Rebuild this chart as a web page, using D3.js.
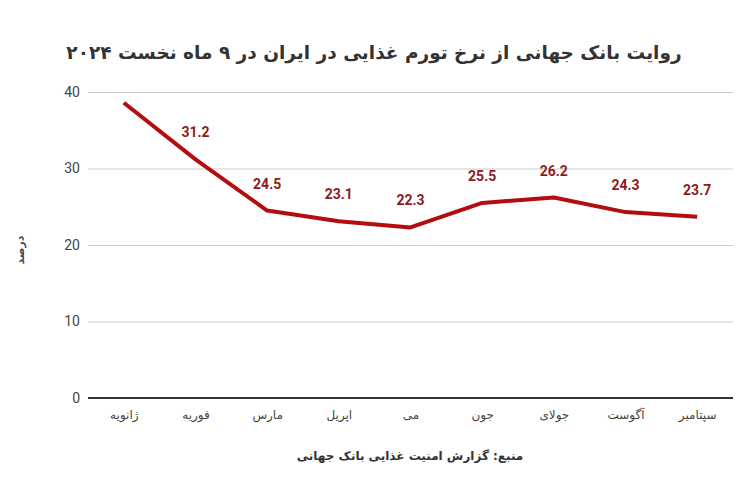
<!DOCTYPE html>
<html>
<head>
<meta charset="utf-8">
<script src="https://cdn.jsdelivr.net/npm/d3@7"></script>
<style>
  body { margin: 0; background: #fff; }
  svg { display: block; }
  .fa { font-family: "DejaVu Sans", sans-serif; direction: rtl; }
  .tick text { font-family: Roboto, "Liberation Sans", sans-serif; }
</style>
</head>
<body>
<svg id="chart"></svg>
<script>
// months, Jan..Sep 2024 (left to right)
const months = ['ژانویه', 'فوریه', 'مارس', 'اپریل', 'می', 'جون', 'جولای', 'آگوست', 'سپتامبر'];
const inflation = [38.6, 31.2, 24.5, 23.1, 22.3, 25.5, 26.2, 24.3, 23.7];
const showLabel = [false, true, true, true, true, true, true, true, true];
const yTicks = [0, 10, 20, 30, 40];

const titleText = 'روایت بانک جهانی از نرخ تورم غذایی در ایران در ۹ ماه نخست ۲۰۲۴';
const yTitle = 'درصد';
const sourceText = 'منبع: گزارش امنیت غذایی بانک جهانی';

const width = 750, height = 492;
const margin = {top: 92, right: 17, bottom: 94, left: 88};

const svg = d3.select('#chart').attr('width', width).attr('height', height);

const x = d3.scalePoint()
    .domain(months)
    .range([margin.left, width - margin.right])
    .padding(0.5);
const y = d3.scaleLinear()
    .domain([0, 40])
    .range([height - margin.bottom, margin.top]);

// gridlines + y tick labels
const yAxis = svg.append('g')
    .attr('transform', 'translate(' + margin.left + ',0)')
    .call(d3.axisLeft(y).tickValues(yTicks).tickSize(-(width - margin.left - margin.right)).tickPadding(8));
yAxis.select('.domain').remove();
yAxis.selectAll('.tick line').attr('stroke', '#cccccc').attr('stroke-width', 1);
yAxis.selectAll('.tick text').attr('fill', '#444').attr('font-size', 14);

// baseline
svg.append('line')
    .attr('x1', margin.left).attr('x2', width - margin.right)
    .attr('y1', y(0)).attr('y2', y(0))
    .attr('stroke', '#333').attr('stroke-width', 2);

// x labels
const xAxis = svg.append('g')
    .attr('transform', 'translate(0,' + y(0) + ')')
    .call(d3.axisBottom(x).tickSize(0).tickPadding(12));
xAxis.select('.domain').remove();
xAxis.selectAll('.tick text')
    .attr('class', 'fa')
    .attr('fill', '#444')
    .attr('font-size', 12)
    .style('font-family', '"DejaVu Sans", sans-serif');

// line
const line = d3.line()
    .x((d, i) => x(months[i]))
    .y(d => y(d));
svg.append('path')
    .datum(inflation)
    .attr('fill', 'none')
    .attr('stroke', '#b30d0d')
    .attr('stroke-width', 4)
    .attr('stroke-linejoin', 'round')
    .attr('d', line);

// value labels (first point has none)
const labelData = inflation
    .map((v, i) => ({month: months[i], value: v}))
    .filter((d, i) => showLabel[i]);
svg.append('g').selectAll('text')
    .data(labelData)
    .join('text')
    .attr('x', d => x(d.month))
    .attr('y', d => y(d.value) - 22)
    .attr('text-anchor', 'middle')
    .attr('font-family', 'Roboto, "Liberation Sans", sans-serif')
    .attr('font-weight', 'bold')
    .attr('font-size', 14)
    .attr('fill', '#8e1b1b')
    .text(d => d.value);

// title
svg.append('text')
    .attr('class', 'fa')
    .attr('x', 374)
    .attr('y', 59)
    .attr('text-anchor', 'middle')
    .attr('font-weight', 'bold')
    .attr('font-size', 18.5)
    .attr('fill', '#333')
    .text(titleText);

// y title
svg.append('text')
    .attr('class', 'fa')
    .attr('transform', 'translate(24,250) rotate(-90)')
    .attr('text-anchor', 'middle')
    .attr('font-size', 11)
    .attr('font-weight', 'bold')
    .attr('fill', '#444')
    .text(yTitle);

// source
svg.append('text')
    .attr('class', 'fa')
    .attr('x', 410)
    .attr('y', 460)
    .attr('text-anchor', 'middle')
    .attr('font-size', 12)
    .attr('font-weight', 'bold')
    .attr('fill', '#333')
    .text(sourceText);
</script>
</body>
</html>
